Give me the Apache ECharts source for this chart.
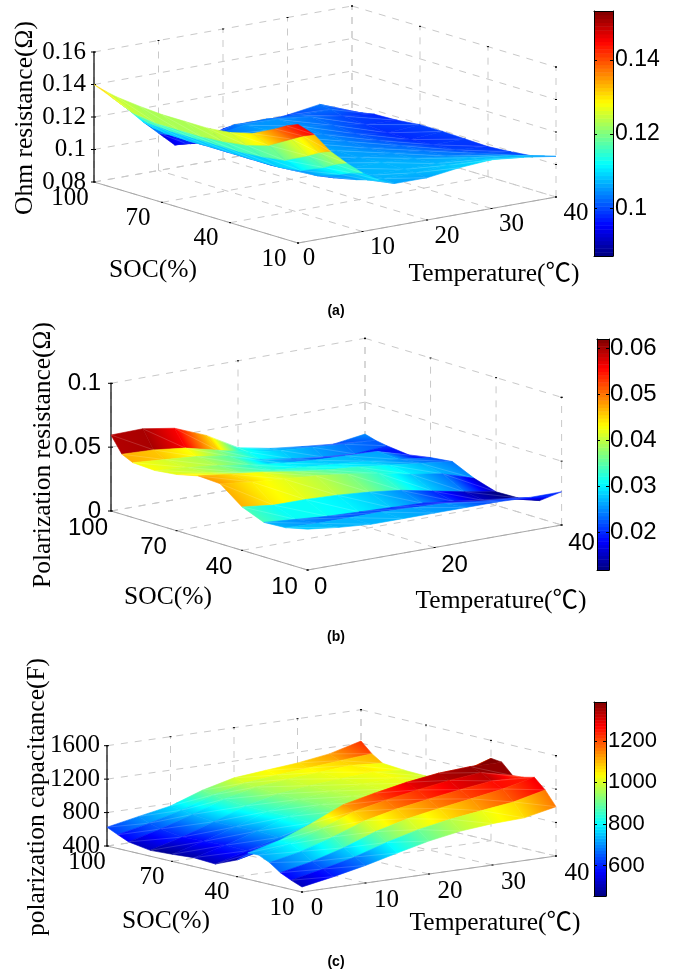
<!DOCTYPE html>
<html><head><meta charset="utf-8">
<style>html,body{margin:0;padding:0;background:#fff}#c{width:674px;height:975px}</style>
<script src="https://cdn.jsdelivr.net/npm/echarts@6/dist/echarts.min.js"></script>
</head><body><div id="c"></div>
<script>
// ---------- tick labels ----------
const socTicks = [100, 70, 40, 10];
const tempTicksAC = [0, 10, 20, 30, 40];
const tempTicksB = [0, 20, 40];
const zTicksA = [0.08, 0.1, 0.12, 0.14, 0.16];
const zTicksB = [0, 0.05, 0.1];
const zTicksC = [400, 800, 1200, 1600];
const barTicksA = [0.1, 0.12, 0.14];
const barTicksB = [0.02, 0.03, 0.04, 0.05, 0.06];
const barTicksC = [600, 800, 1000, 1200];

// ---------- panel (a) Ohm resistance ----------
const tempA = [0, 2.5, 5, 7.5, 10, 12.5, 15, 20, 25, 30, 35, 40];
const socA = [100, 95, 90, 80, 70, 60, 50, 40, 30, 20, 15, 10];
const ohm = [
 [.140,.131,.122,.112,.103,.094,.093,.0985,.0985,.100,.103,.095],
 [.138,.128,.119,.110,.104,.097,.096,.103,.103,.102,.102,.096],
 [.1365,.125,.117,.109,.104,.100,.102,.105,.105,.103,.100,.0975],
 [.135,.123,.116,.1085,.104,.101,.104,.106,.105,.102,.099,.098],
 [.134,.123,.116,.109,.104,.101,.105,.106,.104,.101,.098,.0995],
 [.134,.123,.116,.109,.104,.101,.106,.106,.104,.101,.098,.0995],
 [.134,.124,.116,.109,.104,.101,.106,.106,.104,.102,.099,.099],
 [.1355,.126,.117,.109,.105,.102,.106,.106,.105,.103,.100,.0985],
 [.139,.130,.119,.111,.106,.103,.107,.107,.106,.104,.102,.0995],
 [.146,.138,.126,.117,.111,.106,.107,.107,.107,.107,.105,.101],
 [.150,.142,.130,.121,.114,.108,.107,.107,.108,.108,.107,.103],
 [.153,.145,.133,.124,.116,.110,.106,.106,.1086,.110,.108,.105]
];
// ---------- panel (b) Polarization resistance ----------
const tempB = [0, 5, 10, 15, 20, 25, 30, 35, 40];
const socB = [100, 95, 90, 80, 70, 60, 50, 40, 30, 20, 10];
const rp = [
 [.0595,.060,.056,.046,.032,.027,.024,.0215,.025],
 [.047,.046,.043,.037,.031,.028,.026,.024,.0225],
 [.043,.041,.039,.035,.028,.024,.021,.019,.021],
 [.042,.040,.037,.033,.030,.028,.027,.026,.019],
 [.044,.041,.037,.034,.032,.030,.028,.025,.022],
 [.048,.045,.042,.038,.035,.033,.030,.027,.024],
 [.047,.044,.042,.040,.037,.033,.028,.024,.016],
 [.034,.031,.031,.030,.028,.025,.020,.015,.0106],
 [.027,.025,.023,.022,.021,.020,.017,.013,.011],
 [.028,.027,.027,.027,.026,.025,.022,.020,.014],
 [.032,.029,.027,.027,.027,.027,.027,.026,.026]
];
// ---------- panel (c) polarization capacitance ----------
const tempC = [0, 5, 10, 15, 20, 25, 30, 35, 40];
const socC = [100, 95, 90, 80, 70, 60, 50, 40, 35, 30, 25, 20, 15, 10];
const cp = [
 [625,700,771,905,1000,1036,1070,1125,1225],
 [565,650,750,880,970,1010,1040,1075,1105],
 [510,610,730,860,950,990,1020,1050,1020],
 [470,575,705,840,930,975,1005,1030,998],
 [485,585,705,835,925,970,1000,1020,990],
 [505,600,715,835,925,970,1000,1020,1020],
 [490,595,700,820,910,960,990,1010,1150],
 [600,690,800,960,1060,1140,1200,1260,1385],
 [715,810,960,1130,1215,1290,1345,1370,1370],
 [720,800,930,1080,1160,1230,1290,1330,1240],
 [660,740,860,1000,1085,1150,1210,1260,1250],
 [570,650,760,900,1000,1070,1130,1195,1280],
 [510,590,680,800,900,970,1020,1070,1160],
 [460,530,610,705,795,860,895,910,990]
];

// ---------- layout of each panel ----------
const SERIF = '"Liberation Serif","Noto Sans CJK SC",serif';
const SANS = '"Liberation Sans",sans-serif';
const panels = [
 {top:0,height:320,temps:tempA,socs:socA,table:ohm,tTicks:tempTicksAC,zTicks:zTicksA,barTicks:barTicksA,
  zMin:.08,zMax:.16,cMin:.0871,cMax:.1532,shade:'bandT',bandLimit:12.5,
  front:[298,243],tVec:[258,-46],socVec:[-204,-61],zH:130,
  tickFont:'25px '+SERIF,zLabelDx:-8,socOff:[-24,16],tOff:[20,16],t0Off:[11,15],
  zTitle:'Ohm resistance(Ω)',zTitlePos:[25,118],socTitlePos:[153,270],tTitlePos:[494,274],capt:'(a)',captPos:[336,311],
  bar:{left:594,top:11,width:19,height:245,size:23,margin:2}},
 {top:320,height:330,temps:tempB,socs:socB,table:rp,tTicks:tempTicksB,zTicks:zTicksB,barTicks:barTicksB,
  zMin:0,zMax:.1,cMin:.0118,cMax:.062,shade:'bandSoc',
  front:[307.6,570],tVec:[254,-45],socVec:[-196.6,-59],zH:127.7,
  tickFont:'24px '+SANS,zLabelDx:-10,socOff:[-23,17],tOff:[20,18],t0Off:[13,17],
  zTitle:'Polarization resistance(Ω)',zTitlePos:[43,455],socTitlePos:[168,597],tTitlePos:[501,601],capt:'(b)',captPos:[336,637],
  bar:{left:597,top:339,width:12,height:231,size:24,margin:1}},
 {top:650,height:325,temps:tempC,socs:socC,table:cp,tTicks:tempTicksAC,zTicks:zTicksC,barTicks:barTicksC,
  zMin:400,zMax:1600,cMin:453,cMax:1387,shade:'bandSoc',
  front:[302,892],tVec:[254,-36],socVec:[-195,-46],zH:100.3,
  tickFont:'25px '+SERIF,zLabelDx:-7,socOff:[-20,16],tOff:[21,17],t0Off:[15,16],
  zTitle:'polarization capacitance(F)',zTitlePos:[37,797],socTitlePos:[166,921],tTitlePos:[495,923],capt:'(c)',captPos:[336,962],
  bar:{left:594,top:702,width:12,height:194,size:22,margin:2}}
];
const LEVELS = 64;
const GRID_COLOR = '#c9c9c9';
const TITLE_FONT = '25.5px ' + SERIF;

// ---------- helpers ----------
const clamp01 = v => Math.max(0, Math.min(1, v));
function jetRGB(t){
  const f = k => Math.round(255*clamp01(1.5 - Math.abs(4*t - k)));
  return 'rgb(' + f(3) + ',' + f(2) + ',' + f(1) + ')';
}
function projector(p){
  return (T, soc, z) => {
    const a = T/40, b = (soc-10)/90, c = (z-p.zMin)/(p.zMax-p.zMin);
    return [p.front[0]+a*p.tVec[0]+b*p.socVec[0], p.front[1]+a*p.tVec[1]+b*p.socVec[1]-c*p.zH];
  };
}
// linear jet gradient between two screen points carrying t0 and t1
function jetGradient(P,Q,t0,t1){
  if(Math.abs(t1-t0)<1e-4) return jetRGB((t0+t1)/2);
  const lo=Math.min(t0,t1),hi=Math.max(t0,t1);
  const S=t0<t1?P:Q,E=t0<t1?Q:P;
  const stops=[{offset:0,color:jetRGB(lo)}];
  [.125,.375,.625,.875].forEach(k=>{ if(k>lo&&k<hi) stops.push({offset:(k-lo)/(hi-lo),color:jetRGB(k)}); });
  stops.push({offset:1,color:jetRGB(hi)});
  return new echarts.graphic.LinearGradient(S[0],S[1],E[0],E[1],stops,true);
}
// exact value gradient over a triangle
function triangleFill(pts,t){
  const [x0,y0]=pts[0],[x1,y1]=pts[1],[x2,y2]=pts[2];
  const det=(x1-x0)*(y2-y0)-(x2-x0)*(y1-y0);
  const lo=Math.min(...t),hi=Math.max(...t);
  if(Math.abs(det)<1e-6||hi-lo<1e-4) return jetRGB((t[0]+t[1]+t[2])/3);
  const a=((t[1]-t[0])*(y2-y0)-(t[2]-t[0])*(y1-y0))/det;
  const b=((t[2]-t[0])*(x1-x0)-(t[1]-t[0])*(x2-x0))/det;
  const S=pts[t.indexOf(lo)],d=(hi-lo)/(a*a+b*b);
  return jetGradient(S,[S[0]+a*d,S[1]+b*d],lo,hi);
}
const MESH={stroke:'rgba(255,255,255,.24)',lineWidth:.7};

// ---------- option parts ----------
const grids=[],xAxes=[],yAxes=[],series=[];
panels.forEach((p,idx)=>{
  const proj = projector(p);
  const gi = grids.length, xi = xAxes.length, yi = yAxes.length;
  grids.push({left:0,top:p.top,width:674,height:p.height});
  xAxes.push({type:'value',gridIndex:gi,min:0,max:674,show:false});
  yAxes.push({type:'value',gridIndex:gi,min:p.top,max:p.top+p.height,inverse:true,show:false});

  // grid lines on floor and the two back walls
  const segs=[];
  const socLo=10,socHi=100,tLo=0,tHi=40;
  p.tTicks.forEach(T=>{
    segs.push([proj(T,socLo,p.zMin),proj(T,socHi,p.zMin)]);
    segs.push([proj(T,socHi,p.zMin),proj(T,socHi,p.zMax)]);
  });
  socTicks.forEach(s=>{
    segs.push([proj(tLo,s,p.zMin),proj(tHi,s,p.zMin)]);
    segs.push([proj(tHi,s,p.zMin),proj(tHi,s,p.zMax)]);
  });
  p.zTicks.forEach(z=>{
    segs.push([proj(tLo,socHi,z),proj(tHi,socHi,z)]);
    segs.push([proj(tHi,socHi,z),proj(tHi,socLo,z)]);
  });
  series.push({type:'custom',coordinateSystem:'cartesian2d',xAxisIndex:xi,yAxisIndex:yi,silent:true,animation:false,clip:false,z:2,
    data:segs.map(s=>[s[0][0],s[0][1],s[1][0],s[1][1]]),
    renderItem:(params,api)=>{
      const a=api.coord([api.value(0),api.value(1)]),b=api.coord([api.value(2),api.value(3)]);
      return {type:'line',shape:{x1:a[0],y1:a[1],x2:b[0],y2:b[1]},style:{stroke:GRID_COLOR,lineWidth:1,lineDash:[7,7]}};
    }});

  // solid box edges and small tick dots
  const solid=[[proj(tLo,socHi,p.zMin),proj(tLo,socLo,p.zMin),'#a8a8a8',1],
               [proj(tLo,socLo,p.zMin),proj(tHi,socLo,p.zMin),'#a8a8a8',1],
               [proj(tLo,socHi,p.zMin),proj(tLo,socHi,p.zMax),'#000',1.2]];
  p.zTicks.forEach(z=>{const q=proj(tLo,socHi,z);solid.push([[q[0]-3,q[1]],[q[0]+2,q[1]],'#000',1]);
    const r=proj(tHi,socLo,z);solid.push([[r[0]-1,r[1]],[r[0]+1,r[1]],'#000',1]);});
  p.tTicks.forEach(T=>{const q=proj(T,socLo,p.zMin);solid.push([[q[0]-1,q[1]],[q[0]+1,q[1]],'#000',1]);
    const r=proj(T,socHi,p.zMax);solid.push([[r[0]-1,r[1]],[r[0]+1,r[1]],'#000',1]);});
  socTicks.forEach(s=>{const q=proj(tLo,s,p.zMin);solid.push([[q[0]-1,q[1]],[q[0]+1,q[1]],'#000',1]);
    const r=proj(tHi,s,p.zMax);solid.push([[r[0]-1,r[1]],[r[0]+1,r[1]],'#000',1]);});
  series.push({type:'custom',coordinateSystem:'cartesian2d',xAxisIndex:xi,yAxisIndex:yi,silent:true,animation:false,clip:false,z:3,
    data:solid.map(s=>[s[0][0],s[0][1],s[1][0],s[1][1],s[3]]),
    renderItem:(params,api)=>{
      const a=api.coord([api.value(0),api.value(1)]),b=api.coord([api.value(2),api.value(3)]);
      return {type:'line',shape:{x1:a[0],y1:a[1],x2:b[0],y2:b[1]},style:{stroke:solid[params.dataIndex][2],lineWidth:api.value(4)}};
    }});

  // surface cells, far ones first
  const quads=[];
  for(let r=0;r<p.socs.length-1;r++){
    for(let c=p.temps.length-2;c>=0;c--){
      quads.push([p.temps[c],p.temps[c+1],p.socs[r],p.socs[r+1],p.table[r][c],p.table[r][c+1],p.table[r+1][c],p.table[r+1][c+1]]);
    }
  }
  const norm=z=>clamp01((z-p.cMin)/(p.cMax-p.cMin));
  series.push({type:'custom',coordinateSystem:'cartesian2d',xAxisIndex:xi,yAxisIndex:yi,silent:true,animation:false,clip:false,z:4,progressive:0,
    data:quads,
    renderItem:(params,api)=>{
      const v=i=>api.value(i);
      const T0=v(0),T1=v(1),s0=v(2),s1=v(3),z00=v(4),z01=v(5),z10=v(6),z11=v(7);
      const sp=(T,s,z)=>api.coord(proj(T,s,z));
      const A=sp(T1,s0,z01),B=sp(T0,s0,z00),C=sp(T1,s1,z11),D=sp(T0,s1,z10);
      const kids=[];
      const banded = p.shade==='bandSoc' ? triangleFill([B,D,A],[norm(z00),norm(z00),norm(z01)])
        : (p.shade==='bandT' && T0<p.bandLimit) ? triangleFill([A,B,C],[norm(z01),norm(z01),norm(z11)]) : null;
      if(banded){
        kids.push({type:'polygon',shape:{points:[A,B,D,C]},style:{fill:banded,stroke:banded,lineWidth:.6}});
      }else{
        const f1=triangleFill([A,B,C],[norm(z01),norm(z00),norm(z11)]);
        const f2=triangleFill([B,C,D],[norm(z00),norm(z11),norm(z10)]);
        kids.push({type:'polygon',shape:{points:[A,B,C]},style:{fill:f1,stroke:f1,lineWidth:.6}});
        kids.push({type:'polygon',shape:{points:[B,C,D]},style:{fill:f2,stroke:f2,lineWidth:.6}});
      }
      kids.push({type:'line',shape:{x1:B[0],y1:B[1],x2:C[0],y2:C[1]},style:MESH});
      return {type:'group',children:kids};
    }});

  // real text: tick labels, axis titles and the caption
  const labels=[];
  p.zTicks.forEach(z=>{const q=proj(tLo,socHi,z);labels.push({x:q[0]+p.zLabelDx,y:q[1],text:String(z),font:p.tickFont,align:'right'});});
  socTicks.forEach(s=>{const q=proj(tLo,s,p.zMin);labels.push({x:q[0]+p.socOff[0],y:q[1]+p.socOff[1],text:String(s),font:p.tickFont,align:'center'});});
  p.tTicks.forEach(T=>{const q=proj(T,socLo,p.zMin),o=T===0?p.t0Off:p.tOff;labels.push({x:q[0]+o[0],y:q[1]+o[1],text:String(T),font:p.tickFont,align:'center'});});
  labels.push({x:p.zTitlePos[0],y:p.zTitlePos[1],text:p.zTitle,font:TITLE_FONT,align:'center',rot:Math.PI/2});
  labels.push({x:p.socTitlePos[0],y:p.socTitlePos[1],text:'SOC(%)',font:TITLE_FONT,align:'center'});
  labels.push({x:p.tTitlePos[0],y:p.tTitlePos[1],text:'Temperature(℃)',font:TITLE_FONT,align:'center'});
  labels.push({x:p.captPos[0],y:p.captPos[1],text:p.capt,font:'bold 14px '+SANS,align:'center'});
  series.push({type:'custom',coordinateSystem:'cartesian2d',xAxisIndex:xi,yAxisIndex:yi,silent:true,animation:false,clip:false,z:5,
    data:labels.map(l=>[l.x,l.y]),
    renderItem:(params,api)=>{
      const l=labels[params.dataIndex],q=api.coord([api.value(0),api.value(1)]);
      return {type:'text',x:q[0],y:q[1],rotation:l.rot||0,style:{text:l.text,font:l.font,fill:'#000',align:l.align,verticalAlign:'middle'}};
    }});

  // colour bar with its own value axis
  const bi=grids.length;
  grids.push({left:p.bar.left,top:p.bar.top,width:p.bar.width,height:p.bar.height});
  const frameLine={show:true,onZero:false,lineStyle:{color:'#000',width:1}};
  const bx=xAxes.length, by=yAxes.length;
  xAxes.push({type:'value',gridIndex:bi,min:0,max:1,position:'bottom',z:6,axisLine:frameLine,axisTick:{show:false},axisLabel:{show:false},splitLine:{show:false}});
  xAxes.push({type:'value',gridIndex:bi,min:0,max:1,position:'top',z:6,axisLine:frameLine,axisTick:{show:false},axisLabel:{show:false},splitLine:{show:false}});
  const yBase={type:'value',gridIndex:bi,min:p.cMin,max:p.cMax,z:6,axisLine:frameLine,splitLine:{show:false}};
  yAxes.push(Object.assign({},yBase,{position:'right',
    axisTick:{show:true,inside:true,length:3,customValues:p.barTicks,lineStyle:{color:'#000'}},
    axisLabel:{show:true,customValues:p.barTicks,margin:p.bar.margin,color:'#000',fontFamily:'Liberation Sans',fontSize:p.bar.size,formatter:v=>String(v)}}));
  yAxes.push(Object.assign({},yBase,{position:'left',
    axisTick:{show:true,inside:true,length:3,customValues:p.barTicks,lineStyle:{color:'#000'}},
    axisLabel:{show:false}}));
  const cells=[];
  for(let i=0;i<LEVELS;i++){cells.push([p.cMin+(p.cMax-p.cMin)*i/LEVELS,p.cMin+(p.cMax-p.cMin)*(i+1)/LEVELS,(i+.5)/LEVELS]);}
  series.push({type:'custom',coordinateSystem:'cartesian2d',xAxisIndex:bx,yAxisIndex:by,silent:true,animation:false,z:2,
    data:cells,
    renderItem:(params,api)=>{
      const a=api.coord([0,api.value(0)]),b=api.coord([1,api.value(1)]);
      return {type:'rect',shape:{x:a[0],y:b[1],width:b[0]-a[0],height:a[1]-b[1]+.5},style:{fill:jetRGB(api.value(2))}};
    }});
});

const chart=echarts.init(document.getElementById('c'),null,{renderer:'canvas',width:674,height:975});
chart.setOption({backgroundColor:'#fff',animation:false,grid:grids,xAxis:xAxes,yAxis:yAxes,series:series});
</script></body></html>
